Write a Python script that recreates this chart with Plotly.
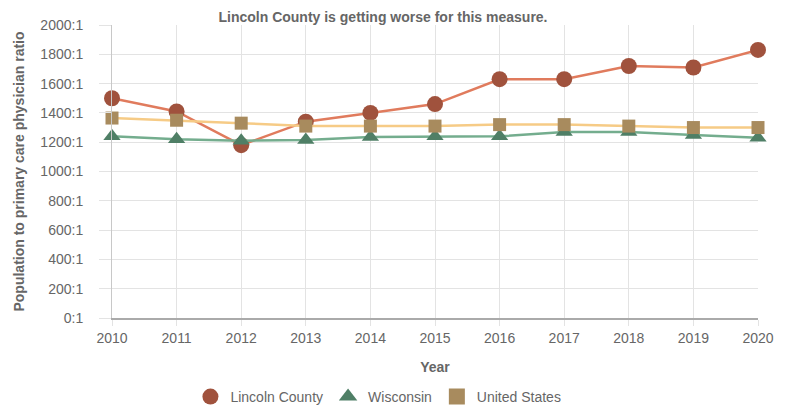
import plotly.graph_objects as go

years = [2010, 2011, 2012, 2013, 2014, 2015, 2016, 2017, 2018, 2019, 2020]
lincoln = [1500, 1410, 1180, 1340, 1400, 1460, 1630, 1630, 1720, 1710, 1830]
wisconsin = [1240, 1220, 1210, 1215, 1235, 1240, 1240, 1270, 1270, 1250, 1230]
united_states = [1365, 1350, 1330, 1310, 1310, 1310, 1320, 1320, 1310, 1300, 1300]

y_ticks = [0, 200, 400, 600, 800, 1000, 1200, 1400, 1600, 1800, 2000]
y_labels = [f"{v}:1" for v in y_ticks]

font = "Liberation Sans, Arial, sans-serif"
grey = "#666666"
W, H = 788, 411
PAD = 8  # page body margin of the html page

series = [
    ("Lincoln County", lincoln, "#E07B5D", "circle", 16, "#A0523D"),
    ("Wisconsin", wisconsin, "#74AD8E", "triangle-up", 15, "#4F7F66"),
    ("United States", united_states, "#F6CB86", "square", 13, "#A88B5E"),
]

fig = go.Figure()
for name, vals, line_col, sym, size, mcol in series:
    fig.add_trace(go.Scatter(
        x=years, y=vals, name=name, mode="lines+markers", showlegend=False,
        line=dict(color=line_col, width=2.5),
        marker=dict(symbol=sym, size=size, color=mcol),
        cliponaxis=False))
# legend entries show only the marker
for name, vals, line_col, sym, size, mcol in series:
    fig.add_trace(go.Scatter(
        x=[None], y=[None], name=name, mode="markers",
        marker=dict(symbol=sym, size=22, color=mcol)))

fig.update_layout(
    width=W, height=H,
    paper_bgcolor="white", plot_bgcolor="white",
    margin=dict(l=112 - PAD, r=W - 758 + PAD, t=25 - PAD, b=H - 318 + PAD),
    font=dict(family=font, size=14, color=grey),
    title=dict(text="<b>Lincoln County is getting worse for this measure.</b>",
               x=(383 - PAD) / W, xanchor="center", yref="container",
               y=1 - (17 - PAD) / H, yanchor="middle",
               font=dict(size=14, color=grey)),
    legend=dict(orientation="h", x=(333 - PAD) / W, xanchor="center",
                yref="container", y=1 - (397 - PAD) / H, yanchor="middle",
                font=dict(size=14, color=grey), itemsizing="trace"),
    showlegend=True,
)
fig.update_xaxes(
    range=[2010, 2020], tickvals=years, ticktext=[str(y) for y in years],
    showgrid=True, gridcolor="#E3E3E3", gridwidth=1,
    showline=True, linecolor="#AAAAAA", linewidth=2,
    ticks="outside", ticklen=6, tickcolor="#E3E3E3",
    tickfont=dict(size=14),
    title=dict(text="<b>Year</b>", font=dict(size=14, color=grey), standoff=17),
    zeroline=False, automargin=False,
)
fig.update_yaxes(
    range=[0, 2000], tickvals=y_ticks, ticktext=y_labels,
    showgrid=True, gridcolor="#E3E3E3", gridwidth=1,
    showline=True, linecolor="#C8C8C8", linewidth=1,
    ticks="outside", ticklen=12, tickcolor="#E3E3E3",
    ticklabelstandoff=13,
    tickfont=dict(size=14),
    title=dict(text="<b>Population to primary care physician ratio</b>",
               font=dict(size=14, color=grey), standoff=12),
    zeroline=False, automargin=False,
)

fig.write_html("out.html")
